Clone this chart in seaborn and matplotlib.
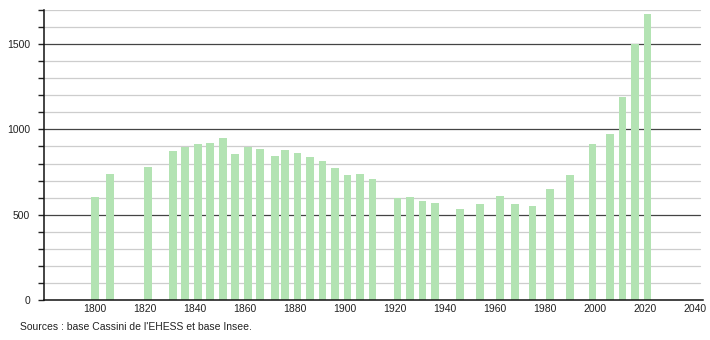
import matplotlib
matplotlib.use("Agg")
import matplotlib.pyplot as plt
import seaborn as sns
import pandas as pd
import numpy as np

years = [1800, 1806, 1821, 1831, 1836, 1841, 1846, 1851, 1856, 1861, 1866, 1872,
         1876, 1881, 1886, 1891, 1896, 1901, 1906, 1911, 1921, 1926, 1931, 1936,
         1946, 1954, 1962, 1968, 1975, 1982, 1990, 1999, 2006, 2011, 2016, 2021]
population = [606, 741, 780, 876, 898, 912, 918, 947, 853, 898, 888, 847,
              882, 859, 841, 812, 771, 735, 741, 712, 598, 606, 582, 571,
              535, 565, 612, 565, 553, 653, 735, 912, 971, 1188, 1500, 1676]
x_tick_labels = ["1800", "1820", "1840", "1860", "1880", "1900", "1920",
                 "1940", "1960", "1980", "2000", "2020", "2040"]
y_tick_labels = ["0", "500", "1000", "1500"]
source_text = "Sources : base Cassini de l'EHESS et base Insee."

sns.set_style("white")
plt.rcParams['font.family'] = ['Liberation Sans', 'DejaVu Sans']

df = pd.DataFrame({"year": years, "pop": population})

fig = plt.figure(figsize=(7.1, 3.4), dpi=100)
ax = fig.add_axes([44/710, 1 - 300/340, 659/710, 290/340])

# gridlines
gx = (700 - 44) / 659
for v in range(100, 1701, 100):
    if v % 500 == 0:
        ax.axhline(v, xmin=0, xmax=gx, color="#444444", lw=0.9, zorder=1)
    else:
        ax.axhline(v, xmin=0, xmax=gx, color="#cdcdcd", lw=0.9, zorder=1)

sns.barplot(data=df, x="year", y="pop", native_scale=True, width=0.8,
            color="#b3e3b3", saturation=1, edgecolor="none", linewidth=0,
            ax=ax, zorder=2)

ax.set_xlim(1779.6, 2043.2)
ax.set_ylim(0, 1700)

ax.set_xticks([int(t) for t in x_tick_labels])
ax.set_xticklabels(x_tick_labels)
ax.set_yticks([int(t) for t in y_tick_labels])
ax.set_yticklabels(y_tick_labels)
ax.set_yticks(range(0, 1701, 100), minor=True)

ax.tick_params(axis="x", length=0, pad=3, labelsize=7.5, colors="#222222")
ax.tick_params(axis="y", which="major", length=4, width=1, pad=6, labelsize=7.5,
               colors="#222222", direction="out")
ax.tick_params(axis="y", which="minor", length=4, width=1, direction="out", color="#222222")
ax.tick_params(axis="y", left=True, which="both")

for s in ["top", "right"]:
    ax.spines[s].set_visible(False)
ax.spines["left"].set_color("#111111")
ax.spines["bottom"].set_color("#111111")
ax.spines["left"].set_linewidth(1.1)
ax.spines["bottom"].set_linewidth(1.1)
ax.set_xlabel("")
ax.set_ylabel("")

fig.text(20/710, 1 - 327/340, source_text, fontsize=7.5, color="#222222", va="center", ha="left")

fig.savefig("out.png", dpi=100)
